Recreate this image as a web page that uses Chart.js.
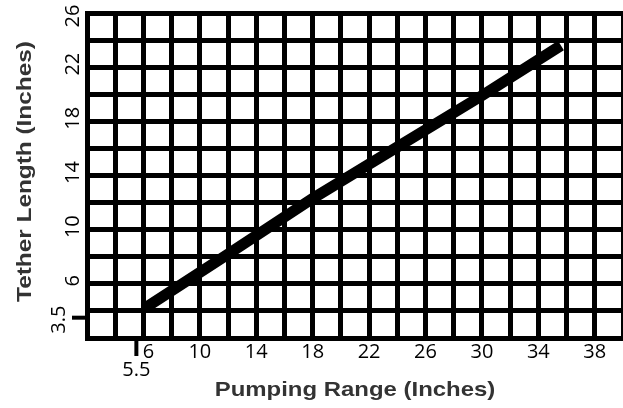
<!DOCTYPE html>
<html>
<head>
<meta charset="utf-8">
<script src="https://cdn.jsdelivr.net/npm/chart.js@4.4.1/dist/chart.umd.min.js"></script>
<style>
  body { margin: 0; background: #fff; }
  #wrap { width: 623px; height: 408px; }
</style>
</head>
<body>
<div id="wrap"><canvas id="tetherChart" width="623" height="408"></canvas></div>
<script>
// values
const pumpingRange = [6.1, 12, 18, 24, 30, 35.6];
const tetherLength = [4.2, 8.2, 12.3, 16.1, 19.9, 23.6];
const xTickLabels = [6, 10, 14, 18, 22, 26, 30, 34, 38];
const yTickLabels = [6, 10, 14, 18, 22, 26];
const xStartMark = 5.5;
const yStartMark = 3.5;

const xTitle = 'Pumping Range (Inches)';
const yTitle = 'Tether Length (Inches)';

// labels, start marks and titles drawn by hand like the original
const handLabels = {
  id: 'handLabels',
  afterDraw(chart) {
    const ctx = chart.ctx;
    const xs = chart.scales.x;
    const ys = chart.scales.y;
    const area = chart.chartArea;
    ctx.save();
    ctx.fillStyle = '#000';
    ctx.strokeStyle = '#000';
    ctx.font = '20px "Open Sans"';
    ctx.textAlign = 'center';
    ctx.textBaseline = 'middle';

    xTickLabels.forEach(v => {
      let px = xs.getPixelForValue(v);
      if (v === 6) px += 5;
      ctx.fillText(String(v), px, area.bottom + 14);
    });

    yTickLabels.forEach(v => {
      // keep the top label inside the canvas
      const py = Math.max(ys.getPixelForValue(v) - 3, area.top + 3);
      ctx.save();
      ctx.translate(area.left - 14, py);
      ctx.rotate(-Math.PI / 2);
      ctx.fillText(String(v), 0, 0);
      ctx.restore();
    });

    // 5.5 mark under the x axis
    const mx = xs.getPixelForValue(xStartMark);
    ctx.lineWidth = 4;
    ctx.beginPath();
    ctx.moveTo(mx, area.bottom);
    ctx.lineTo(mx, area.bottom + 18);
    ctx.stroke();
    ctx.fillText(String(xStartMark), mx, area.bottom + 32);

    // 3.5 mark left of the y axis
    const my = ys.getPixelForValue(yStartMark);
    ctx.beginPath();
    ctx.moveTo(area.left, my);
    ctx.lineTo(area.left - 15, my);
    ctx.stroke();
    ctx.save();
    ctx.translate(area.left - 28, my + 2);
    ctx.rotate(-Math.PI / 2);
    ctx.fillText(String(yStartMark), 0, 0);
    ctx.restore();

    // axis titles
    ctx.fillStyle = '#333';
    ctx.font = 'bold 21px "Liberation Sans"';
    ctx.save();
    ctx.translate((area.left + 623) / 2, 390);
    ctx.scale(1.14, 1);
    ctx.fillText(xTitle, 0, 0);
    ctx.restore();

    ctx.save();
    ctx.translate(25, (area.top + area.bottom) / 2 - 4);
    ctx.rotate(-Math.PI / 2);
    ctx.scale(1.16, 1);
    ctx.fillText(yTitle, 0, 0);
    ctx.restore();

    ctx.restore();
  }
};

const ctx = document.getElementById('tetherChart').getContext('2d');
const points = pumpingRange.map((x, i) => ({ x: x, y: tetherLength[i] }));

new Chart(ctx, {
  type: 'scatter',
  data: {
    datasets: [{
      data: points,
      showLine: true,
      borderColor: '#000',
      borderWidth: 11,
      borderCapStyle: 'butt',
      pointRadius: 0,
      tension: 0
    }]
  },
  options: {
    responsive: false,
    animation: false,
    layout: { padding: { left: 87, top: 13, right: 0, bottom: 70 } },
    plugins: {
      legend: { display: false },
      tooltip: { enabled: false }
    },
    scales: {
      x: {
        type: 'linear',
        min: 2,
        max: 40,
        ticks: { display: false, stepSize: 2 },
        grid: { color: '#000', lineWidth: 5, drawTicks: false },
        border: { display: true, color: '#000', width: 5 }
      },
      y: {
        type: 'linear',
        min: 2,
        max: 26,
        ticks: { display: false, stepSize: 2 },
        grid: { color: '#000', lineWidth: 5, drawTicks: false },
        border: { display: true, color: '#000', width: 5 }
      }
    }
  },
  plugins: [handLabels]
});
</script>
</body>
</html>
